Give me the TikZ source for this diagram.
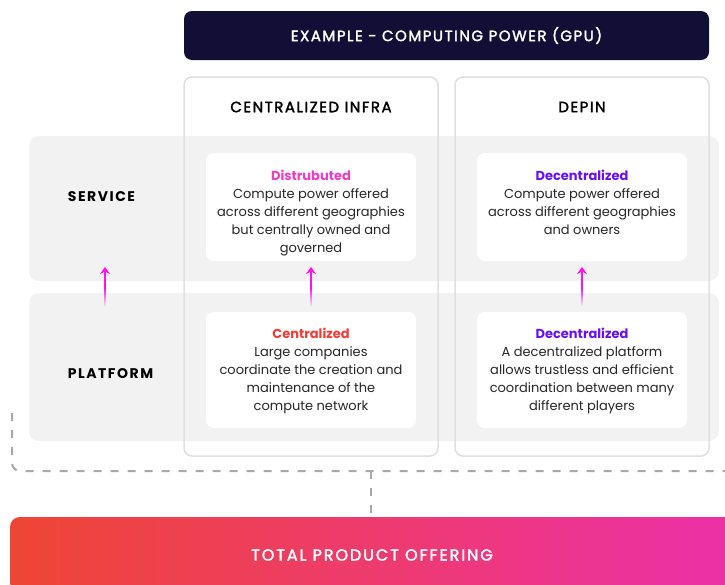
\documentclass[tikz,border=0pt]{standalone}
\usepackage{fontspec}
\setmainfont{Poppins}
\newfontfamily\medls[FakeBold=2,LetterSpace=10]{Poppins}
\newfontfamily\medlsw[FakeBold=2,LetterSpace=12]{Poppins}
\newfontfamily\boldls[LetterSpace=11]{Poppins}
\usetikzlibrary{arrows.meta,fadings}
\definecolor{navy}{HTML}{120E35}
\definecolor{bandgray}{HTML}{F2F2F2}
\definecolor{colline}{HTML}{E0E0E0}
\definecolor{bodytxt}{HTML}{262626}
\definecolor{pinkh}{HTML}{F03CC5}
\definecolor{violeth}{HTML}{6A0FF5}
\definecolor{redh}{HTML}{F23C35}
\definecolor{dashgray}{HTML}{A8A8A8}
\definecolor{magarrow}{HTML}{FF10F0}
\definecolor{gradL}{HTML}{EE4634}
\definecolor{gradR}{HTML}{EC30A8}
\begin{document}
\begin{tikzpicture}[x=1pt,y=-1pt,
  titlebox/.style={fill=navy, rounded corners=8pt, inner sep=0pt, text=white,
    font=\medls\fontsize{15}{17}\selectfont},
  colbox/.style={draw=colline, line width=1.5pt, rounded corners=8pt, inner sep=0pt},
  colhead/.style={font=\medls\fontsize{15}{17}\selectfont, text=black, inner sep=0pt},
  band/.style={fill=bandgray, rounded corners=10pt, inner sep=0pt},
  rowhead/.style={font=\boldls\bfseries\fontsize{14}{16}\selectfont, text=black, inner sep=0pt},
  card/.style={fill=white, rounded corners=8pt, inner sep=0pt},
  cardtxt/.style={font=\fontsize{13}{18}\selectfont, text=bodytxt, align=center,
    inner sep=0pt, anchor=north},
  uparrow/.style={draw=magarrow, line width=1.8pt, -{Stealth[length=7pt,width=10pt,inset=2.5pt]}},
  fadeline/.style={draw=magarrow, line width=1.8pt, path fading=south},
  dashline/.style={draw=dashgray, line width=2pt, dash pattern=on 8pt off 9pt},
  tpobar/.style={left color=gradL, right color=gradR, rounded corners=10pt, inner sep=0pt,
    text=white, font=\medlsw\fontsize{16}{18}\selectfont}
]
\useasboundingbox (0,0) rectangle (725,584);
\fill[white] (0,0) rectangle (725,584);

% title
\node[titlebox, minimum width=525pt, minimum height=49pt] (title) at (446.5,35.5)
  {EXAMPLE - COMPUTING POWER (GPU)};

% row bands
\node[band, minimum width=690pt, minimum height=145pt] (svc) at (374,208.5) {};
\node[band, minimum width=690pt, minimum height=148pt] (plt) at (374,367) {};
\node[rowhead] (svclbl) at (101.5,197) {SERVICE};
\node[rowhead] (pltlbl) at (110.5,374) {PLATFORM};

% columns
\node[colbox, minimum width=254pt, minimum height=379pt] (ccol) at (311,266.5) {};
\node[colbox, minimum width=254pt, minimum height=379pt] (dcol) at (582,266.5) {};
\node[colhead] (chead) at (311,107) {CENTRALIZED INFRA};
\node[colhead] (dhead) at (582,107) {DEPIN};

% cards
\node[card, minimum width=210pt, minimum height=108pt] (cs) at (311,207) {};
\node[card, minimum width=210pt, minimum height=108pt] (ds) at (582,207) {};
\node[card, minimum width=210pt, minimum height=116pt] (cp) at (311,370) {};
\node[card, minimum width=210pt, minimum height=116pt] (dp) at (582,370) {};

\node[cardtxt] (cstxt) at (311,170) {{\bfseries\color{pinkh}Distrubuted}\\Compute power offered\\across different geographies\\but centrally owned and\\governed};
\node[cardtxt] (dstxt) at (582,170) {{\bfseries\color{violeth}Decentralized}\\Compute power offered\\across different geographies\\and owners};
\node[cardtxt] (cptxt) at (311,328) {{\bfseries\color{redh}Centralized}\\Large companies\\coordinate the creation and\\maintenance of the\\compute network};
\node[cardtxt] (dptxt) at (582,328) {{\bfseries\color{violeth}Decentralized}\\A decentralized platform\\allows trustless and efficient\\coordination between many\\different players};

% arrows
\foreach \n/\x in {a/105,b/311,c/582}{
  \coordinate (\n0) at (\x,306);
  \coordinate (\n1) at (\x,289);
  \coordinate (\n2) at (\x,267);
  \draw[fadeline] (\n0) -- (\n1);
  \draw[uparrow] (\n1) -- (\n2);
}

% bottom bar
\node[tpobar, minimum width=724pt, minimum height=76pt] (tpo) at (372,555) {TOTAL PRODUCT OFFERING};

% dashed bracket
\coordinate (dA) at (12,413);
\coordinate (dB) at (725,471);
\coordinate (dC) at (371,471);
\draw[dashline, rounded corners=8pt] (dA) -- (dA |- dB) -- (dB);
\draw[dashline] (dC) -- (dC |- tpo.north);
\end{tikzpicture}
\end{document}
